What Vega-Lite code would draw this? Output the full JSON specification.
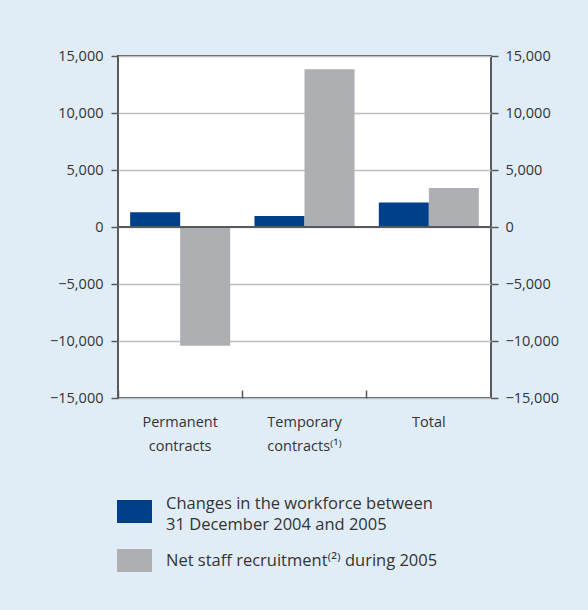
{
  "$schema": "https://vega.github.io/schema/vega-lite/v6.json",
  "autosize": {"type": "none"},
  "width": 373,
  "height": 342,
  "padding": {"left": 118, "top": 56, "right": 97, "bottom": 212},
  "background": "#e1edf6",
  "config": {
    "font": "Open Sans",
    "view": {"fill": "white", "stroke": "#58595b", "strokeWidth": 2},
    "axis": {"labelFont": "Open Sans", "labelColor": "#333333", "labelFontSize": 14.5, "domain": false, "tickColor": "#58595b", "tickWidth": 1.5},
    "style": {"guide-label": {"lineHeight": 21}}
  },
  "data": {
    "values": [
      {"category": "Permanent contracts", "series": "Changes in the workforce between 31 December 2004 and 2005", "value": 1300},
      {"category": "Permanent contracts", "series": "Net staff recruitment⁽²⁾ during 2005", "value": -10420},
      {"category": "Temporary contracts", "series": "Changes in the workforce between 31 December 2004 and 2005", "value": 960},
      {"category": "Temporary contracts", "series": "Net staff recruitment⁽²⁾ during 2005", "value": 13830},
      {"category": "Total", "series": "Changes in the workforce between 31 December 2004 and 2005", "value": 2160},
      {"category": "Total", "series": "Net staff recruitment⁽²⁾ during 2005", "value": 3420}
    ]
  },
  "layer": [
    {
      "mark": {"type": "bar"},
      "encoding": {
        "x": {
          "field": "category", "type": "nominal", "sort": null,
          "scale": {"paddingInner": 0, "paddingOuter": 0},
          "axis": {
            "title": null, "labelAngle": 0, "bandPosition": 0, "tickSize": -8, "labelPadding": 25,
            "labelLineHeight": 24, "labelBaseline": "top",
            "labelExpr": "datum.value == 'Permanent contracts' ? ['Permanent', 'contracts'] : datum.value == 'Temporary contracts' ? ['Temporary', 'contracts⁽¹⁾'] : datum.value"
          }
        },
        "xOffset": {"field": "series", "type": "nominal", "sort": null, "scale": {"paddingOuter": 0.243, "paddingInner": 0}},
        "y": {
          "field": "value", "type": "quantitative",
          "scale": {"domain": [-15000, 15000], "nice": false},
          "axis": {"title": null, "values": [-15000, -10000, -5000, 0, 5000, 10000, 15000], "format": ",d", "labelExpr": "replace(datum.label, '-', '–')", "tickSize": 7, "labelPadding": 8, "grid": true, "gridColor": "#bcbec0", "gridWidth": 1.5, "orient": "left"}
        },
        "color": {
          "field": "series", "type": "nominal", "sort": null,
          "scale": {"range": ["#00408a", "#aeafb2"]},
          "legend": {
            "title": null, "orient": "none", "legendX": -1, "legendY": 438, "direction": "vertical",
            "symbolType": "M-1,-0.657H1V0.657H-1Z", "symbolSize": 1225, "symbolStrokeWidth": 0, "symbolOpacity": 1,
            "labelFont": "Open Sans", "labelFontSize": 16.5, "labelColor": "#333333", "labelLimit": 400, "labelOffset": 14,
            "labelBaseline": {"expr": "datum.index === 0 ? 'bottom' : 'middle'"}, "rowPadding": 10,
            "labelExpr": "datum.value == 'Changes in the workforce between 31 December 2004 and 2005' ? ['Changes in the workforce between', '31 December 2004 and 2005'] : datum.value"
          }
        }
      }
    },
    {
      "mark": {"type": "rule", "color": "#58595b", "strokeWidth": 2},
      "encoding": {
        "y": {"datum": 0, "type": "quantitative",
          "axis": {"title": null, "orient": "right", "values": [-15000, -10000, -5000, 0, 5000, 10000, 15000], "format": ",d", "labelExpr": "replace(datum.label, '-', '–')", "tickSize": 7, "labelPadding": 7, "grid": false}}
      }
    }
  ],
  "resolve": {"axis": {"y": "independent"}}
}
